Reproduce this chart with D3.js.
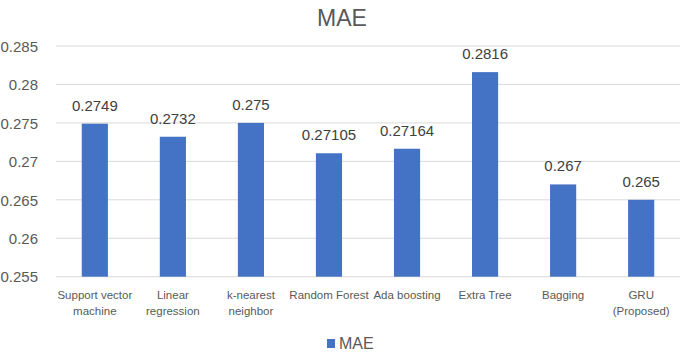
<!DOCTYPE html>
<html>
<head>
<meta charset="utf-8">
<script src="https://cdn.jsdelivr.net/npm/d3@7"></script>
<style>
  body { margin: 0; background: #fff; }
  text { font-family: "Liberation Sans", Arial, sans-serif; }
</style>
</head>
<body>
<svg class="svg-mae"></svg>
<script>
// data
const categories = [
    ["Support vector", "machine"],
    ["Linear", "regression"],
    ["k-nearest", "neighbor"],
    ["Random Forest"],
    ["Ada boosting"],
    ["Extra Tree"],
    ["Bagging"],
    ["GRU", "(Proposed)"]
]
const maeValues = [0.2749, 0.2732, 0.275, 0.27105, 0.27164, 0.2816, 0.267, 0.265]
const maeLabels = ["0.2749", "0.2732", "0.275", "0.27105", "0.27164", "0.2816", "0.267", "0.265"]
const yTicks = [0.255, 0.26, 0.265, 0.27, 0.275, 0.28, 0.285]
const yTickLabels = ["0.255", "0.26", "0.265", "0.27", "0.275", "0.28", "0.285"]

var width = 685
var height = 353
var margin = { top: 46, right: 5, bottom: 76, left: 56 }

var svg = d3.select('.svg-mae')
    .attr('width', width)
    .attr('height', height)

var x_scale = d3.scaleBand()
    .domain(d3.range(categories.length))
    .range([margin.left, width - margin.right])
    .paddingInner(0.665)
    .paddingOuter(0.33)

var y_scale = d3.scaleLinear()
    .domain([0.255, 0.285])
    .range([height - margin.bottom - 0.3, margin.top])

// gridlines
svg.append('g')
    .selectAll('line')
    .data(yTicks)
    .enter()
    .append('line')
    .attr('x1', margin.left)
    .attr('x2', width - margin.right)
    .attr('y1', d => y_scale(d))
    .attr('y2', d => y_scale(d))
    .attr('stroke', '#d9d9d9')
    .attr('stroke-width', 1)

// y axis labels
var y_axis = d3.axisLeft(y_scale)
    .tickValues(yTicks)
    .tickFormat((d, i) => yTickLabels[i])
    .tickSize(0)
    .tickPadding(0)

svg.append('g')
    .attr('transform', 'translate(38,0)')
    .call(y_axis)
    .call(g => g.select('.domain').remove())
    .selectAll('text')
    .attr('fill', '#595959')
    .style('font-size', '15px')
    .attr('dy', '0.35em')

// bars
svg.append('g')
    .selectAll('rect')
    .data(maeValues)
    .enter()
    .append('rect')
    .attr('x', (d, i) => x_scale(i))
    .attr('width', x_scale.bandwidth())
    .attr('y', d => y_scale(d))
    .attr('height', d => y_scale(0.255) - y_scale(d))
    .attr('fill', '#4472c4')

// value labels
svg.append('g')
    .selectAll('text')
    .data(maeValues)
    .enter()
    .append('text')
    .attr('x', (d, i) => x_scale(i) + x_scale.bandwidth() / 2)
    .attr('y', d => y_scale(d) - 13)
    .attr('text-anchor', 'middle')
    .attr('fill', '#404040')
    .style('font-size', '15px')
    .text((d, i) => maeLabels[i])

// category labels
var cats = svg.append('g')
    .selectAll('text')
    .data(categories)
    .enter()
    .append('text')
    .attr('text-anchor', 'middle')
    .attr('fill', '#595959')
    .style('font-size', '11.5px')

cats.selectAll('tspan')
    .data((d, i) => d.map(t => ({ t: t, i: i })))
    .enter()
    .append('tspan')
    .attr('x', d => x_scale(d.i) + x_scale.bandwidth() / 2)
    .attr('y', (d, j) => 299 + j * 16)
    .text(d => d.t)

// title
svg.append('text')
    .attr('x', 342)
    .attr('y', 26)
    .attr('text-anchor', 'middle')
    .attr('fill', '#595959')
    .style('font-size', '23px')
    .text('MAE')

// legend
svg.append('rect')
    .attr('x', 327)
    .attr('y', 339)
    .attr('width', 8)
    .attr('height', 9)
    .attr('fill', '#4472c4')

svg.append('text')
    .attr('x', 339)
    .attr('y', 349)
    .attr('fill', '#595959')
    .style('font-size', '16px')
    .text('MAE')
</script>
</body>
</html>
